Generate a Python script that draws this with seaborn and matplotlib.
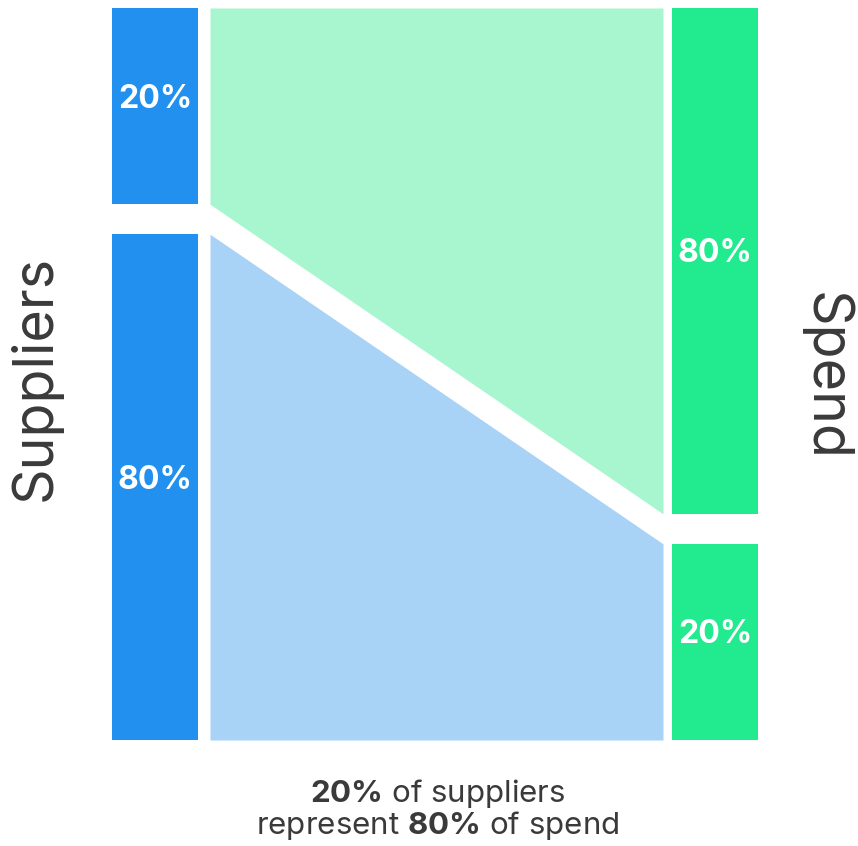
import matplotlib
matplotlib.use("Agg")
import matplotlib.pyplot as plt
import seaborn as sns

# shares shown on each side of the flow chart
supplier_labels = ["20%", "80%"]
supplier_share  = [20, 80]
spend_labels    = ["80%", "20%"]
spend_share     = [80, 20]
side_titles     = ["Suppliers", "Spend"]

BLUE        = "#2190ee"
GREEN       = "#22ea8e"
LIGHT_BLUE  = "#a8d2f6"
LIGHT_GREEN = "#a7f6d0"
TEXT_COLOR  = "#3a3a3a"
FONT        = "Inter"

sns.set_style("white")
plt.rcParams["font.family"] = [FONT, "DejaVu Sans"]
plt.rcParams["mathtext.fontset"] = "custom"
plt.rcParams["mathtext.rm"] = FONT
plt.rcParams["mathtext.bf"] = FONT + ":bold"

# layout in pixels
TOP, BOTTOM, GAP, PAD = 8, 740, 30, 93
LEFT_X, RIGHT_X, BAR_W = 112, 672, 86
FLOW_X0, FLOW_X1 = 210, 663

def segments(shares):
    usable = BOTTOM - TOP - GAP * (len(shares) - 1)
    scale = usable - 2 * PAD
    out, y = [], TOP
    for s in shares:
        h = PAD + scale * s / 100
        out.append((y, y + h))
        y += h + GAP
    return out

left_seg  = segments(supplier_share)
right_seg = segments(spend_share)

fig = plt.figure(figsize=(8.58, 8.46), dpi=100)
ax = fig.add_axes([0, 0, 1, 1])
ax.set_xlim(0, 858)
ax.set_ylim(846, 0)
ax.axis("off")

# flows: i-th supplier group goes to i-th spend group
for (l0, l1), (r0, r1), c in zip(left_seg, right_seg, [LIGHT_GREEN, LIGHT_BLUE]):
    ax.fill_between([FLOW_X0, FLOW_X1], [l0, r0], [l1, r1], color=c, linewidth=0)

for x, segs, labels, c in [(LEFT_X, left_seg, supplier_labels, BLUE), (RIGHT_X, right_seg, spend_labels, GREEN)]:
    for (y0, y1), lab in zip(segs, labels):
        ax.bar(x, y1 - y0, bottom=y0, width=BAR_W, align="edge", color=c, linewidth=0)
        ax.text(x + BAR_W / 2, (y0 + y1) / 2 - 7, lab, color="white", fontsize=23, fontweight="bold", ha="center", va="center")

ax.text(35, 378, side_titles[0], rotation=90, fontsize=40, color=TEXT_COLOR, ha="center", va="center")
ax.text(825, 376, side_titles[1], rotation=270, fontsize=40, color=TEXT_COLOR, ha="center", va="center")

ax.text(438, 793, r"$\mathbf{20\%}$ of suppliers", fontsize=22.5, color=TEXT_COLOR, ha="center", va="center")
ax.text(438, 826, r"represent $\mathbf{80\%}$ of spend", fontsize=22.5, color=TEXT_COLOR, ha="center", va="center")

plt.savefig("out.png", dpi=100)
